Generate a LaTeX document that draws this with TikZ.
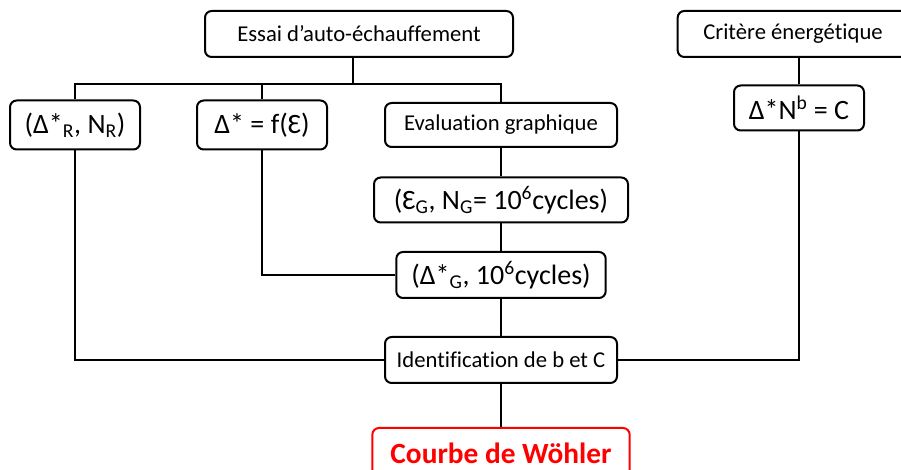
\documentclass[tikz,border=0pt]{standalone}
\usepackage{fontspec}
\setmainfont{Carlito}[Ligatures={NoCommon}]
\usepackage{xcolor}
\usetikzlibrary{positioning}
\definecolor{wred}{HTML}{FF0000}

\begin{document}
\begin{tikzpicture}[x=0.75pt, y=-0.75pt,
  line width=1.5pt,
  box/.style={draw=black, line width=1.5pt, rounded corners=5pt, align=center,
    inner sep=0pt, minimum height=34.5pt, font=\fontsize{17}{20}\selectfont},
  bigbox/.style={box, font=\fontsize{21}{25}\selectfont},
  ]
  \useasboundingbox (0,0) rectangle (901,470);
  % top row
  \node[box, minimum width=231pt] (essai) at (359,34) {Essai d’auto-échauffement};
  \node[box, minimum width=173pt] (critere) at (793,34) {Critère énergétique};
  % second row
  \node[bigbox, minimum width=97.5pt, minimum height=36.75pt] (deltaR) at (75,125)
    {(Δ*\textsubscript{R}, N\textsubscript{R})};
  \node[bigbox, minimum width=97.5pt, minimum height=36.75pt] (deltaf) at (262,125)
    {Δ* = f(Ɛ)};
  \node[box, minimum width=174pt, minimum height=33pt] (evalg) at (501,125)
    {Evaluation graphique};
  \node[bigbox, minimum width=97.5pt, minimum height=33.75pt] (bNC) at (799,108)
    {Δ*N\textsuperscript{b} = C};
  % graphic evaluation column
  \node[bigbox, minimum width=190.5pt, minimum height=33.75pt] (epsG) at (501,200)
    {(Ɛ\textsubscript{G}, N\textsubscript{G}= 10\textsuperscript{6}cycles)};
  \node[bigbox, minimum width=157pt] (deltaG) at (501,275)
    {(Δ*\textsubscript{G}, 10\textsuperscript{6}cycles)};
  \node[box, minimum width=174pt] (ident) at (501,360) {Identification de b et C};
  \node[bigbox, draw=wred, text=wred, minimum width=193pt, minimum height=37.5pt,
    font=\fontsize{22}{26}\selectfont\bfseries] (courbe) at (501,453) {Courbe de Wöhler};
  % connectors
  \coordinate (split) at (353,84);
  \draw (essai.south -| split) -- (split);
  \draw (deltaR.north) |- (split) -| (evalg.north);
  \draw (deltaf.north) -- (deltaf.north |- split);
  \draw (critere.south -| bNC) -- (bNC.north);
  \draw (evalg) -- (epsG);
  \draw (epsG) -- (deltaG);
  \draw (deltaG) -- (ident);
  \draw (ident) -- (courbe);
  \draw (deltaf.south) |- (deltaG.west);
  \draw (deltaR.south) |- (ident.west);
  \draw (bNC.south) |- (ident.east);
\end{tikzpicture}
\end{document}
